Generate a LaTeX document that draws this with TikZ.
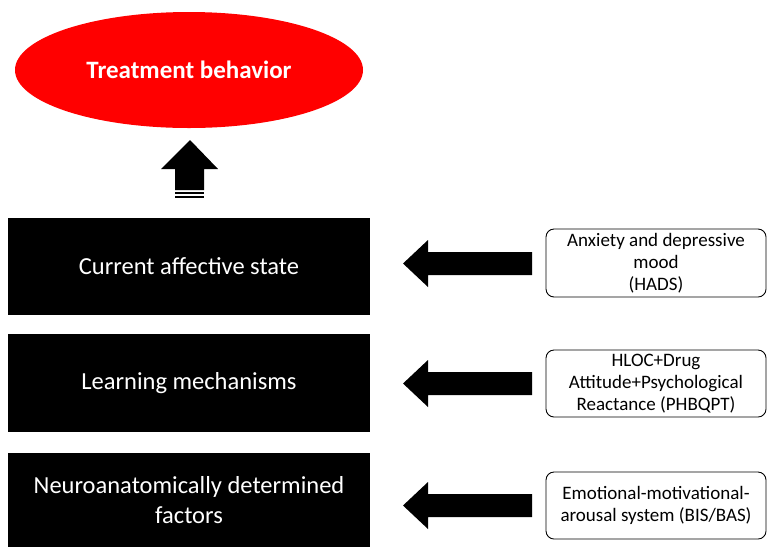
\documentclass[tikz,border=0pt]{standalone}
\usepackage{fontspec}
\setmainfont{Carlito}
\usetikzlibrary{shapes.geometric}
\begin{document}
\begin{tikzpicture}[x=1pt,y=-1pt,
  blackbox/.style={rectangle,fill=black,text=white,minimum width=362pt,inner sep=0pt,align=center,font=\fontsize{24.5}{30}\selectfont},
  srcbox/.style={rectangle,draw=black,line width=0.9pt,rounded corners=8pt,fill=white,minimum width=220pt,inner sep=0pt,align=center,font=\fontsize{19}{22}\selectfont},
  blockarrow/.style={fill=black}]
\useasboundingbox (0,0) rectangle (767,547);
\node[ellipse,fill=red,minimum width=348pt,minimum height=116pt,inner sep=0pt,text=white,font=\bfseries\fontsize{25}{30}\selectfont] (tb) at (189,70) {Treatment behavior};
% up arrow
\fill[blockarrow] (190,140) -- (218,169) -- (204,169) -- (204,190) -- (175,190) -- (175,169) -- (161,169) -- cycle;
\fill[blockarrow] (175,192) rectangle (204,194);
\fill[blockarrow] (175,196) rectangle (204,198);
% black boxes
\node[blackbox,minimum height=97pt] (cas) at (189,266.5) {Current affective state};
\node[blackbox,minimum height=98pt] (lm) at (189,383) {Learning mechanisms};
\node[blackbox,minimum height=94pt] (ndf) at (189,500) {Neuroanatomically determined\\factors};
% source boxes
\node[srcbox,minimum height=68pt] (hads) at (656,263) {Anxiety and depressive\\mood\\(HADS)};
\node[srcbox,minimum height=67pt] (ph) at (656,383.5) {HLOC+Drug\\Attitude+Psychological\\Reactance (PHBQPT)};
\node[srcbox,minimum height=67pt] (bis) at (656,505.5) {Emotional-motivational-\\arousal system (BIS/BAS)};
% left arrows
\foreach \cy in {263.5,383.5,505.5}{
  \fill[blockarrow] (403,\cy) -- (428,\cy-23.5) -- (428,\cy-11.5) -- (532,\cy-11.5) -- (532,\cy+11.5) -- (428,\cy+11.5) -- (428,\cy+23.5) -- cycle;
}
\end{tikzpicture}
\end{document}
